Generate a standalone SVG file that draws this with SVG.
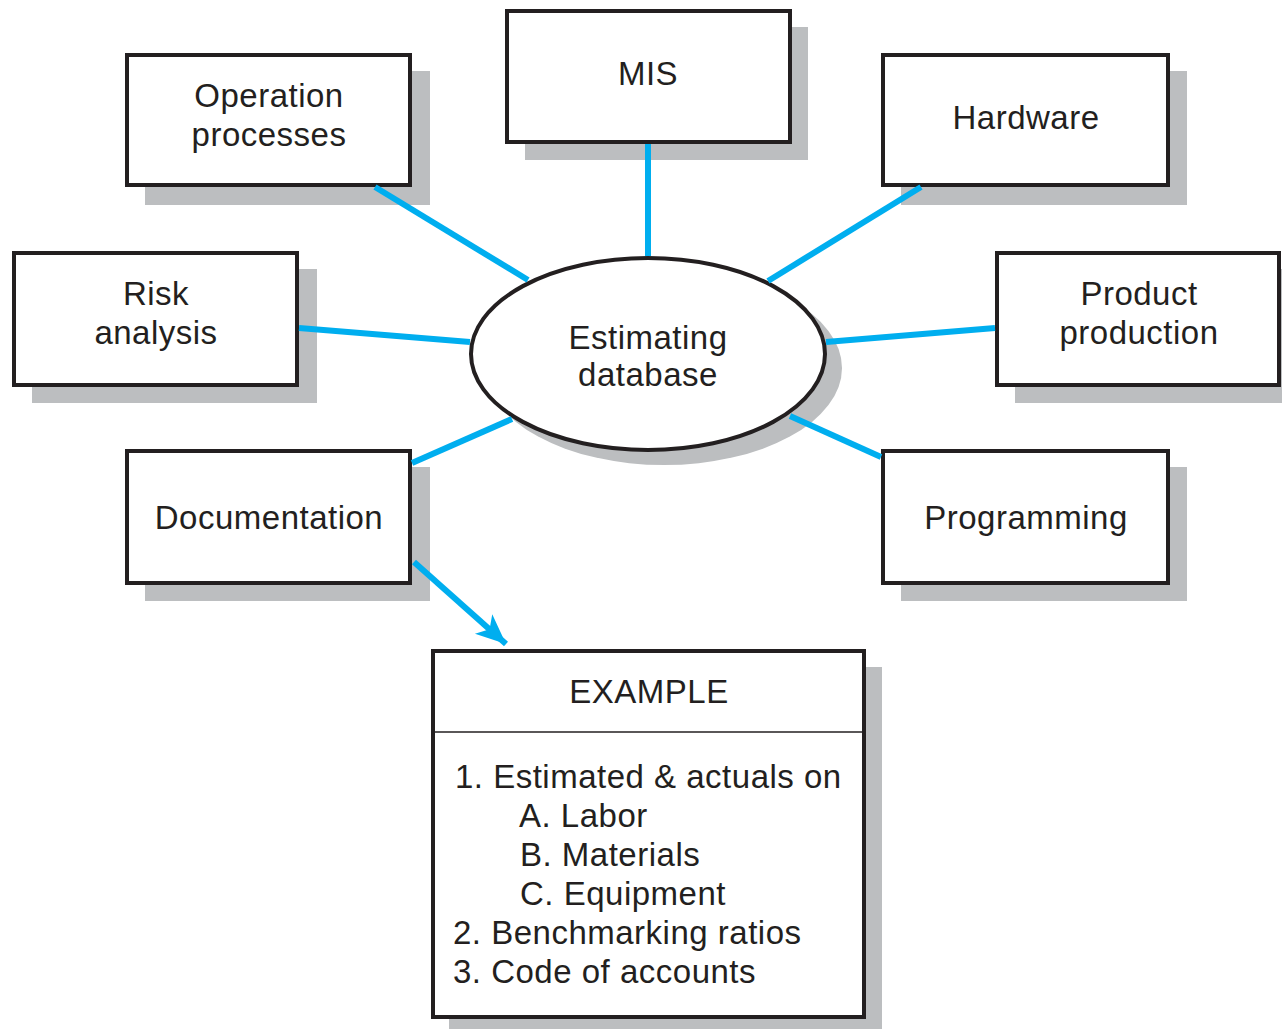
<svg xmlns="http://www.w3.org/2000/svg" width="1282" height="1029" viewBox="0 0 1282 1029">
<defs>
<style>
.sh{fill:#bcbec0}
.bx{fill:#fff;stroke:#231f20;stroke-width:4}
.t{font-family:"Liberation Sans",Arial,sans-serif;font-size:33px;letter-spacing:0.5px;fill:#231f20;text-anchor:middle}
.tl{font-family:"Liberation Sans",Arial,sans-serif;font-size:33px;letter-spacing:0.5px;fill:#231f20}
.c{stroke:#00aeef;stroke-width:6;fill:none}
</style>
<marker id="ah" markerUnits="userSpaceOnUse" markerWidth="40" markerHeight="40" refX="30" refY="15" orient="auto">
<path d="M0,2 L30,15 L0,28 L8,15 Z" fill="#00aeef"/>
</marker>
</defs>
<rect width="1282" height="1029" fill="#fff"/>
<g id="operation-processes">
<rect class="sh" x="145" y="71" width="285" height="134"/>
<rect class="bx" x="127" y="55" width="283" height="130"/>
<text class="t" x="269" y="107">Operation</text>
<text class="t" x="269" y="146">processes</text>
</g>
<g id="mis">
<rect class="sh" x="525" y="27" width="283" height="133"/>
<rect class="bx" x="507" y="11" width="283" height="131"/>
<text class="t" x="648" y="85">MIS</text>
</g>
<g id="hardware">
<rect class="sh" x="901" y="71" width="286" height="134"/>
<rect class="bx" x="883" y="55" width="285" height="130"/>
<text class="t" x="1026" y="129">Hardware</text>
</g>
<g id="risk-analysis">
<rect class="sh" x="32" y="269" width="285" height="134"/>
<rect class="bx" x="14" y="253" width="283" height="132"/>
<text class="t" x="156" y="305">Risk</text>
<text class="t" x="156" y="344">analysis</text>
</g>
<g id="product-production">
<rect class="sh" x="1015" y="269" width="267" height="134"/>
<rect class="bx" x="997" y="253" width="282" height="132"/>
<text class="t" x="1139" y="305">Product</text>
<text class="t" x="1139" y="344">production</text>
</g>
<g id="documentation">
<rect class="sh" x="145" y="467" width="285" height="134"/>
<rect class="bx" x="127" y="451" width="283" height="132"/>
<text class="t" x="269" y="529">Documentation</text>
</g>
<g id="programming">
<rect class="sh" x="901" y="467" width="286" height="134"/>
<rect class="bx" x="883" y="451" width="285" height="132"/>
<text class="t" x="1026" y="529">Programming</text>
</g>
<g id="estimating-database">
<ellipse class="sh" cx="664" cy="368" rx="178" ry="97"/>
<ellipse class="bx" cx="648" cy="354" rx="177" ry="96"/>
<text class="t" x="648" y="349">Estimating</text>
<text class="t" x="648" y="386">database</text>
</g>
<g id="example">
<rect class="sh" x="449" y="667" width="433" height="362"/>
<rect class="bx" x="433" y="651" width="431" height="366"/>
<line x1="433" y1="732" x2="864" y2="732" stroke="#231f20" stroke-width="1.5"/>
<text class="t" x="649" y="703">EXAMPLE</text>
<text class="tl" x="455" y="788">1. Estimated &amp; actuals on</text>
<text class="tl" x="519" y="827">A. Labor</text>
<text class="tl" x="520" y="866">B. Materials</text>
<text class="tl" x="520" y="905">C. Equipment</text>
<text class="tl" x="453" y="944">2. Benchmarking ratios</text>
<text class="tl" x="453" y="983">3. Code of accounts</text>
</g>
<g id="connectors">
<line class="c" x1="375" y1="187" x2="528" y2="280"/>
<line class="c" x1="648" y1="144" x2="648" y2="256"/>
<line class="c" x1="921" y1="187" x2="768" y2="281"/>
<line class="c" x1="299" y1="328" x2="470" y2="342"/>
<line class="c" x1="995" y1="328" x2="826" y2="342"/>
<line class="c" x1="412" y1="463" x2="512" y2="419"/>
<line class="c" x1="881" y1="457" x2="790" y2="416"/>
<line class="c" x1="414" y1="562" x2="506" y2="644" marker-end="url(#ah)"/>
</g>
</svg>
